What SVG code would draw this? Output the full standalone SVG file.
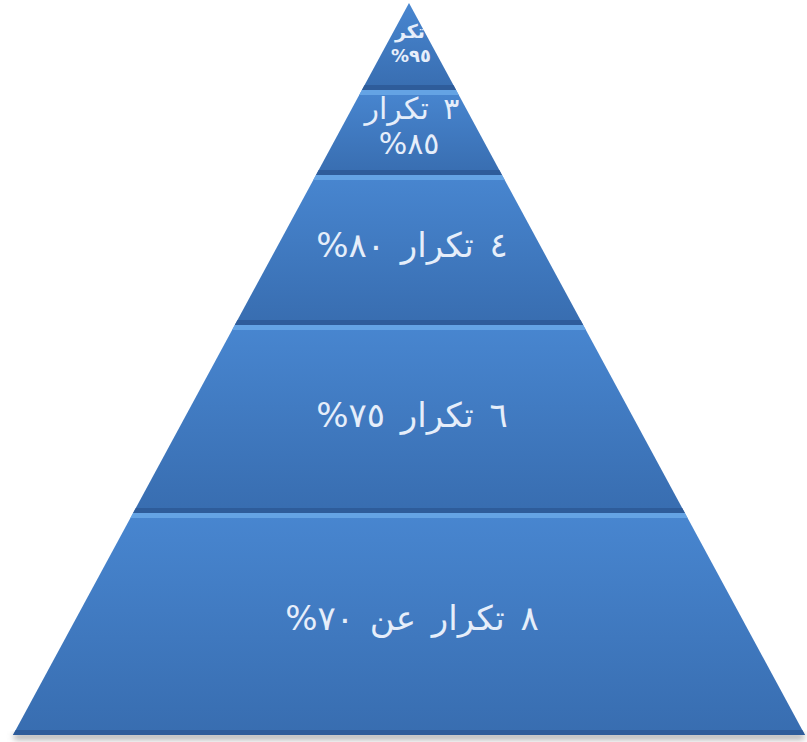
<svg xmlns="http://www.w3.org/2000/svg" width="807" height="742" viewBox="0 0 807 742">
  <defs>
    <linearGradient id="bandFill" x1="0" y1="0" x2="0" y2="1">
      <stop offset="0" stop-color="#4886d0"/>
      <stop offset="1" stop-color="#386db0"/>
    </linearGradient>
    <filter id="shadow" x="-5%" y="-50%" width="110%" height="200%">
      <feGaussianBlur stdDeviation="3"/>
    </filter>
    <style>
      .band { fill: url(#bandFill); }
      .hi { fill: #6aa8e8; opacity: 0.85; }
      .lo { fill: #2d5a98; opacity: 0.9; }
      .lbl { font-family: "DejaVu Sans", "Noto Sans", sans-serif; fill: #e6eefa; text-anchor: middle; direction: rtl; }
      .big { font-size: 34px; word-spacing: 5px; letter-spacing: 1px; }
    </style>
  </defs>
  <rect width="807" height="742" fill="#ffffff"/>
  <rect x="14" y="734" width="790" height="5" fill="#9a9a9a" filter="url(#shadow)"/>

  <g id="level1">
    <polygon class="band" points="409,3 456.1,90 361.9,90"/>
    <polygon class="lo" points="364.6,85 453.4,85 456.1,90 361.9,90"/>
    <text class="lbl" x="410" y="38" font-size="19" font-weight="bold">تكر</text>
    <text class="lbl" x="411" y="62" font-size="18" font-weight="bold" letter-spacing="3">٩٥%</text>
  </g>

  <g id="level2">
    <polygon class="band" points="361.9,90 456.1,90 502,175 316,175"/>
    <polygon class="hi" points="361.9,90 456.1,90 458.8,95 359.2,95"/>
    <polygon class="lo" points="318.7,170 499.3,170 502,175 316,175"/>
    <text class="lbl" x="412" y="119" font-size="30" word-spacing="5">٣ تكرار</text>
    <text class="lbl" x="409" y="154" font-size="30" letter-spacing="2">٨٥%</text>
  </g>

  <g id="level3">
    <polygon class="band" points="316,175 502,175 583.2,325 234.8,325"/>
    <polygon class="hi" points="316,175 502,175 504.8,180 313.2,180"/>
    <polygon class="lo" points="237.5,320 580.5,320 583.2,325 234.8,325"/>
    <text class="lbl big" x="412" y="257">٤ تكرار ٨٠%</text>
  </g>

  <g id="level4">
    <polygon class="band" points="234.8,325 583.2,325 684.9,513 133.1,513"/>
    <polygon class="hi" points="234.8,325 583.2,325 585.9,330 232.1,330"/>
    <polygon class="lo" points="135.8,508 682.2,508 684.9,513 133.1,513"/>
    <text class="lbl big" x="412" y="427">٦ تكرار ٧٥%</text>
  </g>

  <g id="level5">
    <polygon class="band" points="133.1,513 684.9,513 805,735 13,735"/>
    <polygon class="hi" points="133.1,513 684.9,513 687.6,518 130.4,518"/>
    <polygon class="lo" points="15.7,730 802.3,730 805,735 13,735"/>
    <text class="lbl big" x="412" y="630">٨ تكرار عن ٧٠%</text>
  </g>

  <g id="connectors"></g>
</svg>
